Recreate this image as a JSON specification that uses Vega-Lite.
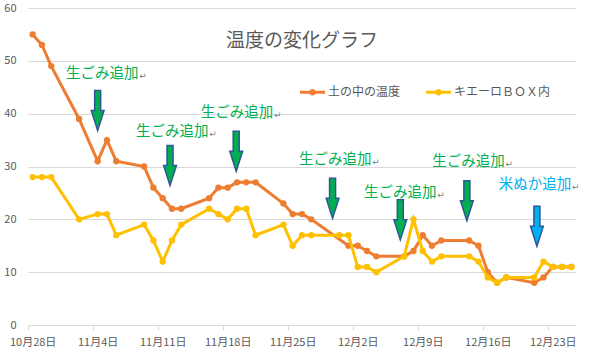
{
  "$schema": "https://vega.github.io/schema/vega-lite/v6.json",
  "width": 548,
  "height": 317,
  "autosize": "none",
  "padding": {"left": 28, "top": 8, "right": 24, "bottom": 34},
  "background": "white",
  "config": {"view": {"stroke": null}, "font": "Noto Sans CJK JP"},
  "title": {"text": "温度の変化グラフ", "fontSize": 19, "fontWeight": "normal", "color": "#595959", "offset": -58, "baseline": "middle", "anchor": "middle", "frame": "group", "font": "Noto Sans CJK JP"},
  "datasets": {
    "temps": [
      {"date": "2019-10-28", "series": "土の中の温度", "temp": 55},
      {"date": "2019-10-29", "series": "土の中の温度", "temp": 53},
      {"date": "2019-10-30", "series": "土の中の温度", "temp": 49},
      {"date": "2019-11-02", "series": "土の中の温度", "temp": 39},
      {"date": "2019-11-04", "series": "土の中の温度", "temp": 31},
      {"date": "2019-11-05", "series": "土の中の温度", "temp": 35},
      {"date": "2019-11-06", "series": "土の中の温度", "temp": 31},
      {"date": "2019-11-09", "series": "土の中の温度", "temp": 30},
      {"date": "2019-11-10", "series": "土の中の温度", "temp": 26},
      {"date": "2019-11-11", "series": "土の中の温度", "temp": 24},
      {"date": "2019-11-12", "series": "土の中の温度", "temp": 22},
      {"date": "2019-11-13", "series": "土の中の温度", "temp": 22},
      {"date": "2019-11-16", "series": "土の中の温度", "temp": 24},
      {"date": "2019-11-17", "series": "土の中の温度", "temp": 26},
      {"date": "2019-11-18", "series": "土の中の温度", "temp": 26},
      {"date": "2019-11-19", "series": "土の中の温度", "temp": 27},
      {"date": "2019-11-20", "series": "土の中の温度", "temp": 27},
      {"date": "2019-11-21", "series": "土の中の温度", "temp": 27},
      {"date": "2019-11-24", "series": "土の中の温度", "temp": 23},
      {"date": "2019-11-25", "series": "土の中の温度", "temp": 21},
      {"date": "2019-11-26", "series": "土の中の温度", "temp": 21},
      {"date": "2019-11-27", "series": "土の中の温度", "temp": 20},
      {"date": "2019-12-01", "series": "土の中の温度", "temp": 15},
      {"date": "2019-12-02", "series": "土の中の温度", "temp": 15},
      {"date": "2019-12-03", "series": "土の中の温度", "temp": 14},
      {"date": "2019-12-04", "series": "土の中の温度", "temp": 13},
      {"date": "2019-12-07", "series": "土の中の温度", "temp": 13},
      {"date": "2019-12-08", "series": "土の中の温度", "temp": 14},
      {"date": "2019-12-09", "series": "土の中の温度", "temp": 17},
      {"date": "2019-12-10", "series": "土の中の温度", "temp": 15},
      {"date": "2019-12-11", "series": "土の中の温度", "temp": 16},
      {"date": "2019-12-14", "series": "土の中の温度", "temp": 16},
      {"date": "2019-12-15", "series": "土の中の温度", "temp": 15},
      {"date": "2019-12-16", "series": "土の中の温度", "temp": 10},
      {"date": "2019-12-17", "series": "土の中の温度", "temp": 8},
      {"date": "2019-12-18", "series": "土の中の温度", "temp": 9},
      {"date": "2019-12-21", "series": "土の中の温度", "temp": 8},
      {"date": "2019-12-22", "series": "土の中の温度", "temp": 9},
      {"date": "2019-12-23", "series": "土の中の温度", "temp": 11},
      {"date": "2019-12-24", "series": "土の中の温度", "temp": 11},
      {"date": "2019-12-25", "series": "土の中の温度", "temp": 11},
      {"date": "2019-10-28", "series": "キエーロＢＯＸ内", "temp": 28},
      {"date": "2019-10-29", "series": "キエーロＢＯＸ内", "temp": 28},
      {"date": "2019-10-30", "series": "キエーロＢＯＸ内", "temp": 28},
      {"date": "2019-11-02", "series": "キエーロＢＯＸ内", "temp": 20},
      {"date": "2019-11-04", "series": "キエーロＢＯＸ内", "temp": 21},
      {"date": "2019-11-05", "series": "キエーロＢＯＸ内", "temp": 21},
      {"date": "2019-11-06", "series": "キエーロＢＯＸ内", "temp": 17},
      {"date": "2019-11-09", "series": "キエーロＢＯＸ内", "temp": 19},
      {"date": "2019-11-10", "series": "キエーロＢＯＸ内", "temp": 16},
      {"date": "2019-11-11", "series": "キエーロＢＯＸ内", "temp": 12},
      {"date": "2019-11-12", "series": "キエーロＢＯＸ内", "temp": 16},
      {"date": "2019-11-13", "series": "キエーロＢＯＸ内", "temp": 19},
      {"date": "2019-11-16", "series": "キエーロＢＯＸ内", "temp": 22},
      {"date": "2019-11-17", "series": "キエーロＢＯＸ内", "temp": 21},
      {"date": "2019-11-18", "series": "キエーロＢＯＸ内", "temp": 20},
      {"date": "2019-11-19", "series": "キエーロＢＯＸ内", "temp": 22},
      {"date": "2019-11-20", "series": "キエーロＢＯＸ内", "temp": 22},
      {"date": "2019-11-21", "series": "キエーロＢＯＸ内", "temp": 17},
      {"date": "2019-11-24", "series": "キエーロＢＯＸ内", "temp": 19},
      {"date": "2019-11-25", "series": "キエーロＢＯＸ内", "temp": 15},
      {"date": "2019-11-26", "series": "キエーロＢＯＸ内", "temp": 17},
      {"date": "2019-11-27", "series": "キエーロＢＯＸ内", "temp": 17},
      {"date": "2019-11-30", "series": "キエーロＢＯＸ内", "temp": 17},
      {"date": "2019-12-01", "series": "キエーロＢＯＸ内", "temp": 17},
      {"date": "2019-12-02", "series": "キエーロＢＯＸ内", "temp": 11},
      {"date": "2019-12-03", "series": "キエーロＢＯＸ内", "temp": 11},
      {"date": "2019-12-04", "series": "キエーロＢＯＸ内", "temp": 10},
      {"date": "2019-12-07", "series": "キエーロＢＯＸ内", "temp": 13},
      {"date": "2019-12-08", "series": "キエーロＢＯＸ内", "temp": 20},
      {"date": "2019-12-09", "series": "キエーロＢＯＸ内", "temp": 14},
      {"date": "2019-12-10", "series": "キエーロＢＯＸ内", "temp": 12},
      {"date": "2019-12-11", "series": "キエーロＢＯＸ内", "temp": 13},
      {"date": "2019-12-14", "series": "キエーロＢＯＸ内", "temp": 13},
      {"date": "2019-12-15", "series": "キエーロＢＯＸ内", "temp": 12},
      {"date": "2019-12-16", "series": "キエーロＢＯＸ内", "temp": 9},
      {"date": "2019-12-17", "series": "キエーロＢＯＸ内", "temp": 8},
      {"date": "2019-12-18", "series": "キエーロＢＯＸ内", "temp": 9},
      {"date": "2019-12-21", "series": "キエーロＢＯＸ内", "temp": 9},
      {"date": "2019-12-22", "series": "キエーロＢＯＸ内", "temp": 12},
      {"date": "2019-12-23", "series": "キエーロＢＯＸ内", "temp": 11},
      {"date": "2019-12-24", "series": "キエーロＢＯＸ内", "temp": 11},
      {"date": "2019-12-25", "series": "キエーロＢＯＸ内", "temp": 11}
    ],
    "arrows": [
      {"date": "2019-11-04T00:00:00Z", "temp": 40.6, "kind": "生ごみ"},
      {"date": "2019-11-11T19:00:00Z", "temp": 30.2, "kind": "生ごみ"},
      {"date": "2019-11-18T22:00:00Z", "temp": 32.9, "kind": "生ごみ"},
      {"date": "2019-11-29T07:00:00Z", "temp": 24.0, "kind": "生ごみ"},
      {"date": "2019-12-06T14:00:00Z", "temp": 19.9, "kind": "生ごみ"},
      {"date": "2019-12-13T18:00:00Z", "temp": 23.5, "kind": "生ごみ"},
      {"date": "2019-12-21T07:00:00Z", "temp": 18.7, "kind": "米ぬか"}
    ],
    "notes": [
      {"date": "2019-11-04T12:00:00Z", "temp": 47.5, "kind": "生ごみ", "label": "生ごみ追加"},
      {"date": "2019-11-12T01:00:00Z", "temp": 36.5, "kind": "生ごみ", "label": "生ごみ追加"},
      {"date": "2019-11-19T00:00:00Z", "temp": 40.1, "kind": "生ごみ", "label": "生ごみ追加"},
      {"date": "2019-11-29T14:00:00Z", "temp": 31.2, "kind": "生ごみ", "label": "生ごみ追加"},
      {"date": "2019-12-06T14:00:00Z", "temp": 25.0, "kind": "生ごみ", "label": "生ごみ追加"},
      {"date": "2019-12-13T22:00:00Z", "temp": 30.9, "kind": "生ごみ", "label": "生ごみ追加"},
      {"date": "2019-12-21T02:00:00Z", "temp": 26.5, "kind": "米ぬか", "label": "米ぬか追加"}
    ]
  },
  "encoding": {
    "x": {
      "field": "date",
      "type": "temporal",
      "scale": {
        "type": "utc",
        "domain": [
          {"year": 2019, "month": 10, "date": 27, "hours": 12, "utc": true},
          {"year": 2019, "month": 12, "date": 25, "hours": 12, "utc": true}
        ]
      },
      "axis": {
        "title": null,
        "values": [
          {"year": 2019, "month": 10, "date": 28, "utc": true},
          {"year": 2019, "month": 11, "date": 4, "utc": true},
          {"year": 2019, "month": 11, "date": 11, "utc": true},
          {"year": 2019, "month": 11, "date": 18, "utc": true},
          {"year": 2019, "month": 11, "date": 25, "utc": true},
          {"year": 2019, "month": 12, "date": 2, "utc": true},
          {"year": 2019, "month": 12, "date": 9, "utc": true},
          {"year": 2019, "month": 12, "date": 16, "utc": true},
          {"year": 2019, "month": 12, "date": 23, "utc": true}
        ],
        "labelExpr": "utcFormat(datum.value, '%-m月%-d日')",
        "grid": false,
        "domainColor": "#d9d9d9",
        "tickColor": "#d9d9d9",
        "tickSize": 5,
        "tickOffset": -4.65,
        "labelOffset": 4.65,
        "labelFontSize": 11,
        "labelColor": "#595959",
        "labelPadding": 6,
        "labelAngle": 0,
        "labelFlush": false,
        "labelOverlap": false,
        "labelFont": "Noto Sans CJK JP"
      }
    },
    "y": {
      "field": "temp",
      "type": "quantitative",
      "scale": {"domain": [0, 60], "nice": false},
      "axis": {
        "title": null,
        "values": [0, 10, 20, 30, 40, 50, 60],
        "grid": true,
        "gridColor": "#d9d9d9",
        "domain": false,
        "ticks": false,
        "labelPadding": 12,
        "labelFontSize": 11,
        "labelColor": "#595959",
        "labelFont": "Noto Sans CJK JP"
      }
    }
  },
  "layer": [
    {
      "data": {"name": "temps"},
      "transform": [{"filter": "datum.series === '土の中の温度'"}],
      "mark": {"type": "line", "strokeWidth": 3},
      "encoding": {
        "color": {
          "field": "series", "type": "nominal",
          "scale": {"domain": ["土の中の温度", "キエーロＢＯＸ内"], "range": ["#ED7D31", "#FFC000"]},
          "legend": {
            "orient": "none", "legendX": 272, "legendY": 71.5, "direction": "horizontal", "title": null,
            "symbolType": "M-1,-0.12L1,-0.12L1,0.12L-1,0.12Z M-0.26,0A0.26,0.26 0 1,1 0.26,0A0.26,0.26 0 1,1 -0.26,0Z",
            "symbolSize": 625, "symbolStrokeWidth": 0,
            "labelFontSize": 12, "labelColor": "#595959", "labelOffset": 3, "columnPadding": 25, "padding": 0,
            "labelFont": "Noto Sans CJK JP",
            "encode": {"symbols": {"update": {"fill": {"scale": "color", "field": "value"}, "stroke": {"value": "transparent"}}}}
          }
        }
      }
    },
    {
      "data": {"name": "temps"},
      "transform": [{"filter": "datum.series === '土の中の温度'"}],
      "mark": {"type": "point", "filled": true, "size": 40, "opacity": 1},
      "encoding": {
        "color": {
          "field": "series", "type": "nominal",
          "scale": {"domain": ["土の中の温度", "キエーロＢＯＸ内"], "range": ["#ED7D31", "#FFC000"]},
          "legend": {
            "orient": "none", "legendX": 272, "legendY": 71.5, "direction": "horizontal", "title": null,
            "symbolType": "M-1,-0.12L1,-0.12L1,0.12L-1,0.12Z M-0.26,0A0.26,0.26 0 1,1 0.26,0A0.26,0.26 0 1,1 -0.26,0Z",
            "symbolSize": 625, "symbolStrokeWidth": 0,
            "labelFontSize": 12, "labelColor": "#595959", "labelOffset": 3, "columnPadding": 25, "padding": 0,
            "labelFont": "Noto Sans CJK JP",
            "encode": {"symbols": {"update": {"fill": {"scale": "color", "field": "value"}, "stroke": {"value": "transparent"}}}}
          }
        }
      }
    },
    {
      "data": {"name": "temps"},
      "transform": [{"filter": "datum.series === 'キエーロＢＯＸ内'"}],
      "mark": {"type": "line", "strokeWidth": 3},
      "encoding": {
        "color": {
          "field": "series", "type": "nominal",
          "scale": {"domain": ["土の中の温度", "キエーロＢＯＸ内"], "range": ["#ED7D31", "#FFC000"]},
          "legend": {
            "orient": "none", "legendX": 272, "legendY": 71.5, "direction": "horizontal", "title": null,
            "symbolType": "M-1,-0.12L1,-0.12L1,0.12L-1,0.12Z M-0.26,0A0.26,0.26 0 1,1 0.26,0A0.26,0.26 0 1,1 -0.26,0Z",
            "symbolSize": 625, "symbolStrokeWidth": 0,
            "labelFontSize": 12, "labelColor": "#595959", "labelOffset": 3, "columnPadding": 25, "padding": 0,
            "labelFont": "Noto Sans CJK JP",
            "encode": {"symbols": {"update": {"fill": {"scale": "color", "field": "value"}, "stroke": {"value": "transparent"}}}}
          }
        }
      }
    },
    {
      "data": {"name": "temps"},
      "transform": [{"filter": "datum.series === 'キエーロＢＯＸ内'"}],
      "mark": {"type": "point", "filled": true, "size": 40, "opacity": 1},
      "encoding": {
        "color": {
          "field": "series", "type": "nominal",
          "scale": {"domain": ["土の中の温度", "キエーロＢＯＸ内"], "range": ["#ED7D31", "#FFC000"]},
          "legend": {
            "orient": "none", "legendX": 272, "legendY": 71.5, "direction": "horizontal", "title": null,
            "symbolType": "M-1,-0.12L1,-0.12L1,0.12L-1,0.12Z M-0.26,0A0.26,0.26 0 1,1 0.26,0A0.26,0.26 0 1,1 -0.26,0Z",
            "symbolSize": 625, "symbolStrokeWidth": 0,
            "labelFontSize": 12, "labelColor": "#595959", "labelOffset": 3, "columnPadding": 25, "padding": 0,
            "labelFont": "Noto Sans CJK JP",
            "encode": {"symbols": {"update": {"fill": {"scale": "color", "field": "value"}, "stroke": {"value": "transparent"}}}}
          }
        }
      }
    },
    {
      "data": {"name": "arrows"},
      "mark": {"type": "point", "shape": "M-0.15,-1L0.15,-1L0.15,0L0.32,0L0,1L-0.32,0L-0.15,0Z", "size": 1600, "filled": true, "opacity": 1, "stroke": "#2F5597", "strokeWidth": 1.5},
      "encoding": {
        "fill": {"field": "kind", "type": "nominal", "scale": {"domain": ["生ごみ", "米ぬか"], "range": ["#00B050", "#00B0F0"]}, "legend": null}
      }
    },
    {
      "data": {"name": "notes"},
      "mark": {"type": "text", "fontSize": 14.5, "align": "center", "baseline": "middle", "font": "Noto Sans CJK JP"},
      "encoding": {
        "text": {"field": "label"},
        "fill": {"field": "kind", "type": "nominal", "scale": {"domain": ["生ごみ", "米ぬか"], "range": ["#00B050", "#00B0F0"]}, "legend": null}
      }
    },
    {
      "data": {"name": "notes"},
      "mark": {"type": "text", "fontSize": 9, "align": "left", "baseline": "middle", "dx": 37, "dy": 2, "color": "#7f7f7f", "font": "DejaVu Sans"},
      "encoding": {
        "text": {"value": "↵"}
      }
    }
  ]
}
